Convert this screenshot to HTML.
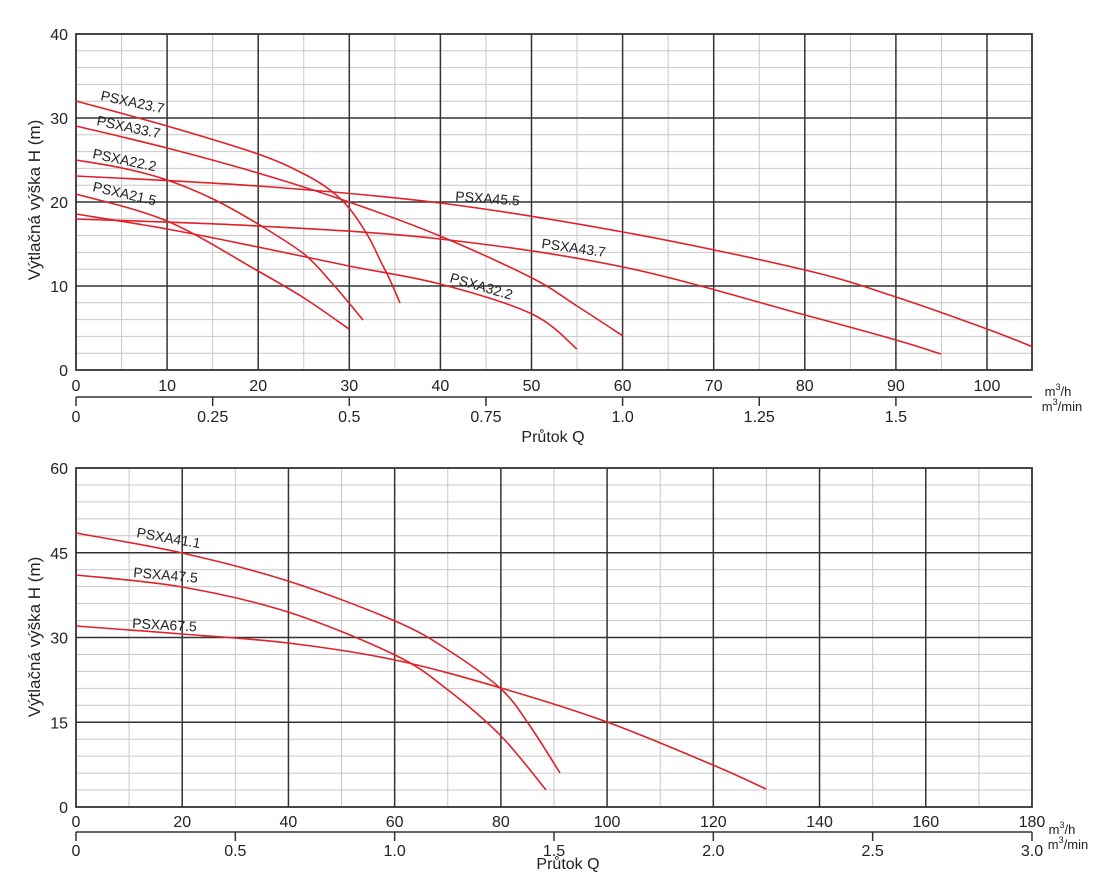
<!DOCTYPE html>
<html><head><meta charset="utf-8"><style>
html,body{margin:0;padding:0;background:#fff;}
svg{display:block;font-family:"Liberation Sans",sans-serif;}
</style></head><body>
<svg id="s" width="1100" height="883" xmlns="http://www.w3.org/2000/svg"></svg>
<script>
const s=document.getElementById('s');let h='';
function L(x1,y1,x2,y2,c,w){h+=`<line x1="${x1}" y1="${y1}" x2="${x2}" y2="${y2}" stroke="${c}" stroke-width="${w}"/>`;}
function T(x,y,t,a,sz,extra){h+=`<text x="${x}" y="${y}" font-size="${sz||15}" text-anchor="${a||'middle'}" fill="#222" ${extra||''}>${t}</text>`;}
function cr(p){let d=`M${p[0][0]},${p[0][1]}`;for(let i=0;i<p.length-1;i++){const p0=p[i-1]||p[i],p1=p[i],p2=p[i+1],p3=p[i+2]||p2;
d+=` C${p1[0]+(p2[0]-p0[0])/6},${p1[1]+(p2[1]-p0[1])/6} ${p2[0]-(p3[0]-p1[0])/6},${p2[1]-(p3[1]-p1[1])/6} ${p2[0]},${p2[1]}`;}
h+=`<path d="${d}" fill="none" stroke="#e0202a" stroke-width="1.6"/>`;}
// top chart
{const x0=76,x1=1032,yt=34,yb=370,sx=9.11,sy=8.4;
for(let v=0;v<=40;v+=2){const y=yb-v*sy;if(v%10)L(x0,y,x1,y,'#c8c8c8',1);}
for(let q=5;q<105;q+=10)L(x0+q*sx,yt,x0+q*sx,yb,'#c8c8c8',1);
for(let v=10;v<40;v+=10)L(x0,yb-v*sy,x1,yb-v*sy,'#333',1.5);
for(let q=10;q<=100;q+=10)L(x0+q*sx,yt,x0+q*sx,yb,'#333',1.5);
h+=`<rect x="${x0}" y="${yt}" width="${x1-x0}" height="${yb-yt}" fill="none" stroke="#333" stroke-width="1.8"/>`;
for(let v=0;v<=40;v+=10)T(68,yb-v*sy+6,v,'end',16);
for(let q=0;q<=100;q+=10)T(x0+q*sx,391,q,'middle',16);
L(x0,397,x1,397,'#333',1.5);
[0,0.25,0.5,0.75,1.0,1.25,1.5].forEach((m,i)=>{const x=x0+m*60*sx;L(x,397,x+0,406,'#333',1.5);T(x,422,['0','0.25','0.5','0.75','1.0','1.25','1.5'][i],'middle',16);});
T(1058,396,'m<tspan font-size="9" dy="-6">3</tspan><tspan dy="6">/h</tspan>','middle',13);
T(1062,411,'m<tspan font-size="9" dy="-6">3</tspan><tspan dy="6">/min</tspan>','middle',13);
T(553,442,'Průtok Q','middle',16);
T(0,0,'Výtlačná výška H (m)','middle',17,'transform="translate(40,200) rotate(-90)"');
}
cr([[76,101],[167,126],[258,154],[304,174],[330,190],[349,208],[368,236],[381,262],[390,280],[400,303]]);
cr([[76,126],[167,148],[258,173],[349,202],[440,236],[532,278],[577,306],[623,336]]);
cr([[76,160],[122,168],[167,180],[213,199],[258,224],[304,254],[331,282],[349,303],[363,320]]);
cr([[76,176],[258,186],[440,203],[623,232],[805,270],[896,297],[987,329],[1033,347]]);
cr([[76,219],[258,226],[440,239],[623,267],[805,315],[896,340],[941,354]]);
cr([[76,214],[167,229],[258,247],[349,266],[440,284],[532,314],[577,349]]);
cr([[76,194],[167,221],[258,271],[304,298],[349,329]]);
function LB(x,y,t,r){T(0,0,t,'start',14,`transform="translate(${x},${y}) rotate(${r})"`);}
LB(100,100,'PSXA23.7',12);LB(96,125,'PSXA33.7',12);LB(92,158,'PSXA22.2',12);LB(92,191,'PSXA21.5',13);
LB(455,201,'PSXA45.5',4);LB(541,248,'PSXA43.7',8);LB(449,282,'PSXA32.2',16);
// bottom chart
{const x0=76,x1=1032,yt=468,yb=807,sx=5.311,sy=5.65;
for(let v=0;v<=60;v+=3){const y=yb-v*sy;if(v%15)L(x0,y,x1,y,'#c8c8c8',1);}
for(let q=10;q<180;q+=20)L(x0+q*sx,yt,x0+q*sx,yb,'#c8c8c8',1);
for(let v=15;v<60;v+=15)L(x0,yb-v*sy,x1,yb-v*sy,'#333',1.5);
for(let q=20;q<180;q+=20)L(x0+q*sx,yt,x0+q*sx,yb,'#333',1.5);
h+=`<rect x="${x0}" y="${yt}" width="${x1-x0}" height="${yb-yt}" fill="none" stroke="#333" stroke-width="1.8"/>`;
for(let v=0;v<=60;v+=15)T(68,yb-v*sy+6,v,'end',16);
for(let q=0;q<=180;q+=20)T(x0+q*sx,827,q,'middle',16);
L(x0,832,x1,832,'#333',1.5);
['0','0.5','1.0','1.5','2.0','2.5','3.0'].forEach((m,i)=>{const x=x0+i*30*sx;L(x,832,x,841,'#333',1.5);T(x,856,m,'middle',16);});
T(1062,834,'m<tspan font-size="9" dy="-6">3</tspan><tspan dy="6">/h</tspan>','middle',13);
T(1068,849,'m<tspan font-size="9" dy="-6">3</tspan><tspan dy="6">/min</tspan>','middle',13);
T(568,869,'Průtok Q','middle',16);
T(0,0,'Výtlačná výška H (m)','middle',17,'transform="translate(40,637) rotate(-90)"');
}
cr([[76,533],[182,553],[288,581],[395,621],[448,650],[501,689],[530,726],[560,773]]);
cr([[76,575],[182,587],[288,612],[395,655],[448,690],[501,736],[546,790]]);
cr([[76,626],[182,634],[288,643],[395,660],[501,688],[607,722],[713,765],[766,789]]);
LB(136,537,'PSXA41.1',10);LB(133,577,'PSXA47.5',5);LB(132,628,'PSXA67.5',3);
s.innerHTML=h;
</script>
</body></html>
